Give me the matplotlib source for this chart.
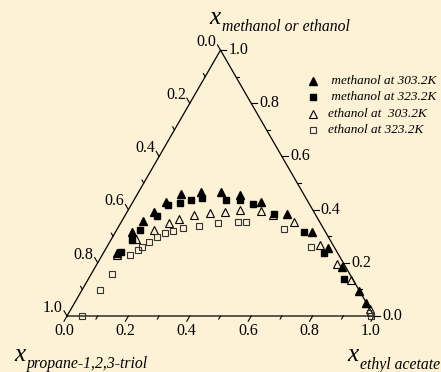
import numpy as np
import matplotlib.pyplot as plt

# mole fractions: ethyl acetate and alcohol, glycerol is the rest
meoh303_ea = [0.044, 0.052, 0.068, 0.089, 0.108, 0.142, 0.202, 0.269, 0.335, 0.417,
              0.524, 0.639, 0.721, 0.804, 0.905, 0.951]
meoh303_alc = [0.238, 0.317, 0.358, 0.392, 0.430, 0.457, 0.468, 0.465, 0.455, 0.430,
               0.384, 0.315, 0.257, 0.185, 0.093, 0.048]

meoh323_ea = [0.056, 0.069, 0.076, 0.104, 0.121, 0.155, 0.185, 0.219, 0.299, 0.344,
              0.394, 0.482, 0.612, 0.719, 0.832]
meoh323_alc = [0.240, 0.285, 0.325, 0.377, 0.416, 0.425, 0.437, 0.442, 0.435, 0.438,
               0.423, 0.384, 0.317, 0.237, 0.139]

etoh303_ea = [0.047, 0.079, 0.122, 0.156, 0.183, 0.225, 0.272, 0.319, 0.366, 0.435,
              0.479, 0.562, 0.691, 0.782, 0.857, 0.973]
etoh303_alc = [0.230, 0.291, 0.323, 0.350, 0.366, 0.379, 0.387, 0.390, 0.398, 0.394,
               0.381, 0.352, 0.267, 0.195, 0.136, 0.028]

etoh323_ea = [0.049, 0.057, 0.066, 0.092, 0.108, 0.115, 0.129, 0.146, 0.164, 0.185,
              0.211, 0.259, 0.318, 0.380, 0.406, 0.542, 0.666, 0.981, 0.990]
etoh323_alc = [0.000, 0.099, 0.159, 0.228, 0.249, 0.259, 0.278, 0.297, 0.311, 0.321,
               0.332, 0.340, 0.350, 0.354, 0.354, 0.329, 0.258, 0.013, 0.000]

tick_vals = np.round(np.arange(0, 1.01, 0.1), 1)
legend_labels = [' methanol at 303.2K', ' methanol at 323.2K', 'ethanol at  303.2K', 'ethanol at 323.2K']

bg = '#FDF2D5'
serif = 'Liberation Serif'
H = np.sqrt(3) / 2
S = 307.0  # pixels per unit side


def tern(ea, alc):
    ea = np.asarray(ea)
    alc = np.asarray(alc)
    return ea + 0.5 * alc, alc * H


def px(x, y):
    return (x - 67) / S, (316 - y) / S


fig = plt.figure(figsize=(4.41, 3.72), dpi=100, facecolor=bg)
ax = fig.add_axes([0, 0, 1, 1])
ax.set_facecolor(bg)
ax.set_xlim(-67 / S, 374 / S)
ax.set_ylim(-56 / S, 316 / S)
ax.axis('off')

ax.plot([0, 1, 0.5, 0], [0, 0, H, 0], color='black', lw=0.9, solid_joinstyle='miter')

# ticks: each axis' ticks run parallel to the next edge
for v in tick_vals:
    major = int(round(v * 10)) % 2 == 0
    L = (6 if major else 3.5) / S
    # bottom (ethyl acetate)
    x0, y0 = v, 0
    dx, dy = -0.5 * L, -H * L
    ax.plot([x0, x0 + dx], [y0, y0 + dy], color='black', lw=0.8)
    if major:
        ax.text(x0 + dx, y0 + dy - 2 / S, f'{v:.1f}', ha='center', va='top',
                fontsize=11.5, family=serif)
    # left (propane-1,2,3-triol)
    x0, y0 = 0.5 - 0.5 * v, H * (1 - v)
    dx, dy = -0.5 * L, H * L
    ax.plot([x0, x0 + dx], [y0, y0 + dy], color='black', lw=0.8)
    if major:
        ax.text(x0 + dx - 1 / S, y0 + dy + 3 / S, f'{v:.1f}', ha='right', va='center',
                fontsize=11.5, family=serif)
    # right (alcohol)
    x0, y0 = 1 - 0.5 * v, H * v
    ax.plot([x0, x0 + L], [y0, y0], color='black', lw=0.8)
    if major:
        ax.text(x0 + L + 2 / S, y0, f'{v:.1f}', ha='left', va='center',
                fontsize=11.5, family=serif)

# data
x, y = tern(meoh303_ea, meoh303_alc)
ax.plot(x, y, ls='none', marker='^', ms=6, color='black', mec='black')
x, y = tern(meoh323_ea, meoh323_alc)
ax.plot(x, y, ls='none', marker='s', ms=5, color='black', mec='black')
x, y = tern(etoh303_ea, etoh303_alc)
ax.plot(x, y, ls='none', marker='^', ms=6, mfc='none', mec='black', mew=0.8)
x, y = tern(etoh323_ea, etoh323_alc)
ax.plot(x, y, ls='none', marker='s', ms=5, mfc='none', mec='#333333', mew=0.8)

# legend
styles = [dict(marker='^', ms=6, color='black'),
          dict(marker='s', ms=5, color='black'),
          dict(marker='^', ms=6, mfc='none', mec='black', mew=0.8),
          dict(marker='s', ms=5, mfc='none', mec='#333333', mew=0.8)]
for i, (lab, st) in enumerate(zip(legend_labels, styles)):
    yy = 80.7 + 16.5 * i
    mx, my = px(313, yy)
    ax.plot([mx], [my], ls='none', **st)
    tx, ty = px(328, yy)
    ax.text(tx, ty, lab, ha='left', va='center', fontsize=9.5, family=serif, style='italic')

# axis titles: big italic x with a subscript-like name after it
for (xx, xb, sx, sb, sub) in [(209, 24, 222, 31, 'methanol or ethanol'),
                             (14, 361, 27, 368, 'propane-1,2,3-triol'),
                             (347, 361, 360, 369, 'ethyl acetate')]:
    ax.text(*px(xx, xb), 'x', ha='left', va='baseline', fontsize=18, family=serif, style='italic')
    ax.text(*px(sx, sb), sub, ha='left', va='baseline', fontsize=11.3, family=serif, style='italic')

fig.savefig('out.png', dpi=100, facecolor=bg)
